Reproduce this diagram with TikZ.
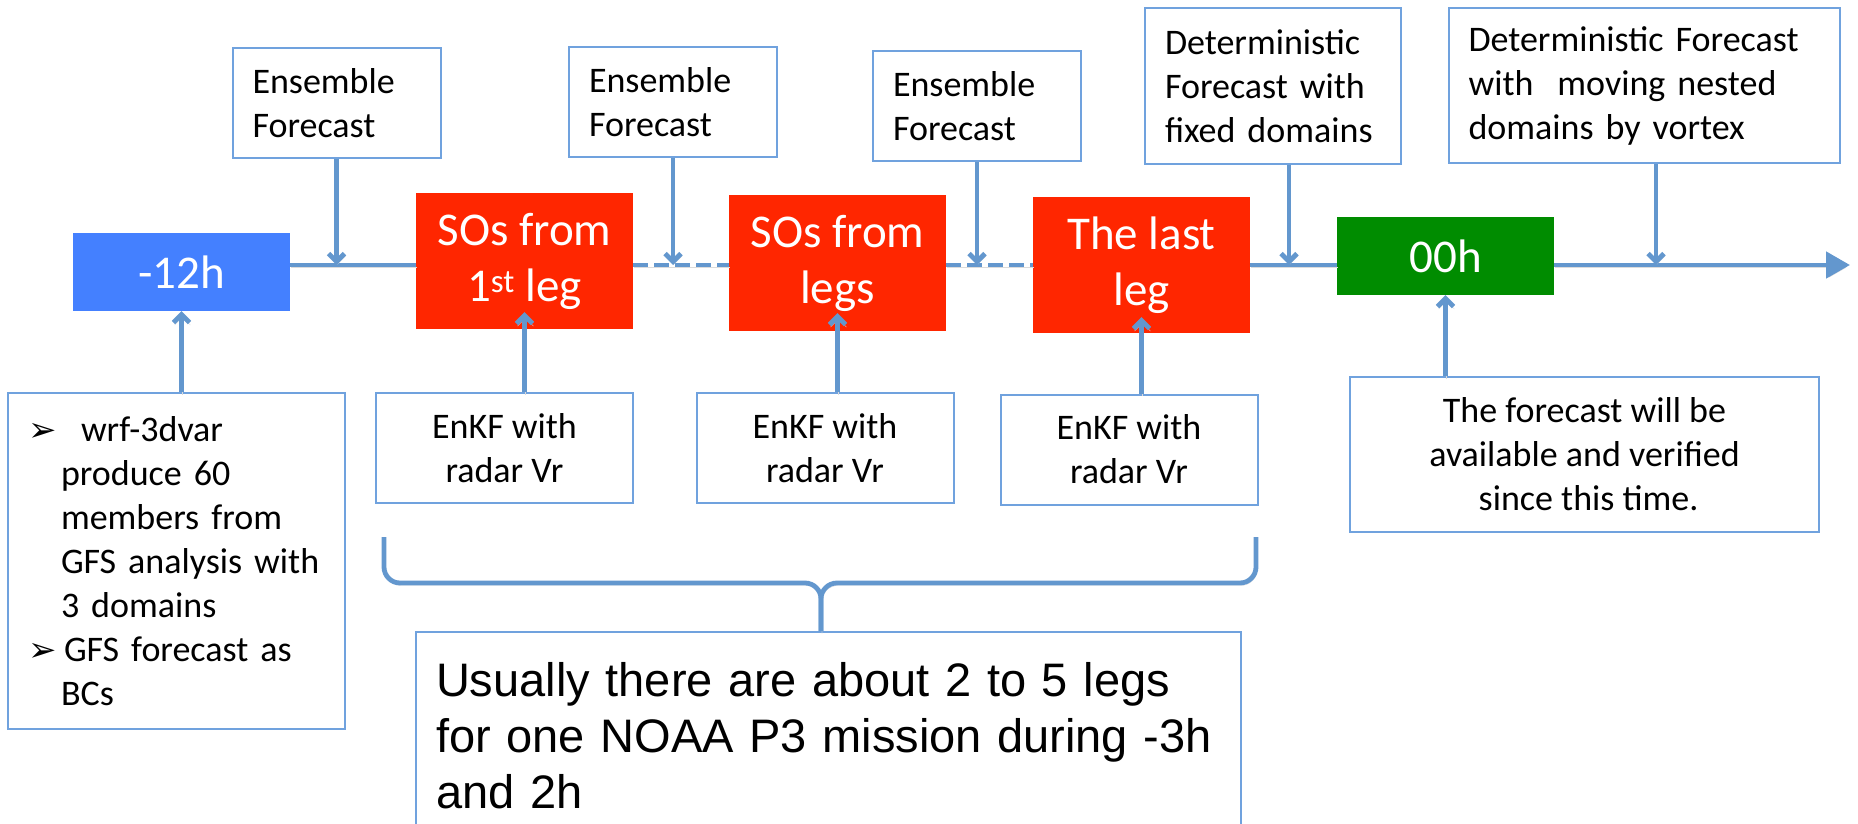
\documentclass[tikz,border=0pt]{standalone}
\usepackage{fontspec}
\setmainfont{Carlito}
\newfontfamily\arialfont{Liberation Sans}
\newfontfamily\dejavu{DejaVu Sans}
\usetikzlibrary{arrows.meta,positioning}

\definecolor{linkblue}{RGB}{99,151,206}
\definecolor{boxline}{RGB}{112,162,222}
\definecolor{startblue}{RGB}{68,128,255}
\definecolor{legred}{RGB}{255,38,0}
\definecolor{zerogreen}{RGB}{0,140,0}

\newcommand{\smalltxt}{\fontsize{36}{44}\selectfont}
\newcommand{\bigtxt}{\fontsize{47}{56}\selectfont}
\newcommand{\bul}{\makebox[33pt][l]{\dejavu\fontsize{34}{44}\selectfont ➢}}

\begin{document}
\begin{tikzpicture}[x=1pt,y=-1pt,
  note/.style={draw=boxline,line width=2pt,fill=white,inner sep=0pt,font=\smalltxt},
  lnote/.style={note,align=left,inner xsep=20pt},
  cnote/.style={note,align=center},
  stamp/.style={inner sep=0pt,text=white,font=\bigtxt,align=center},
  conn/.style={draw=linkblue,line width=4.8pt,
    preaction={draw=black!14,transform canvas={xshift=1pt,yshift=-2.5pt}}},
  broken/.style={dash pattern=on 15pt off 6pt},
  barb/.style={-{Straight Barb[length=8pt,width=16pt]}}]
  \clip (0,0) rectangle (1858,824);
  \coordinate (tl) at (0,265);
  \coordinate (tlend) at (1850,265);

  % forecasts above the line
  \node[lnote,text width=168pt,minimum height=110pt] (e1) at (336.5,103) {Ensemble\\Forecast};
  \node[lnote,text width=168pt,minimum height=110pt] (e2) at (673,102) {Ensemble\\Forecast};
  \node[lnote,text width=168pt,minimum height=110pt] (e3) at (977,106.5) {Ensemble\\Forecast};
  \node[lnote,text width=216pt,minimum height=156pt] (d1) at (1273,86) {Deterministic\\Forecast with\\fixed domains};
  \node[lnote,text width=351pt,minimum height=155pt] (d2) at (1644,86) {Deterministic Forecast\\with\ \ moving nested\\domains by vortex};

  % the time line
  \node[stamp,fill=startblue,minimum width=217pt,minimum height=78pt] (m12) at (181.5,272) {-12h};
  \node[stamp,fill=legred,minimum width=217pt,minimum height=136pt] (so1) at (524.5,261) {SOs from\\1\textsuperscript{st} leg};
  \node[stamp,fill=legred,minimum width=217pt,minimum height=136pt] (so2) at (837.5,263) {SOs from\\legs};
  \node[stamp,fill=legred,minimum width=217pt,minimum height=136pt] (last) at (1141.5,265) {The last\\leg};
  \node[stamp,fill=zerogreen,minimum width=217pt,minimum height=78pt] (zero) at (1445.5,256) {00h};

  % notes below the line
  \node[note,align=left,inner xsep=20pt,text width=297pt,minimum height=336pt] (lb) at (176.5,561)
    {\bul\hspace{20pt}wrf-3dvar\\
     \hspace*{33pt}produce 60\\
     \hspace*{33pt}members from\\
     \hspace*{33pt}GFS analysis with\\
     \hspace*{33pt}3 domains\\
     \bul\hspace{3pt}GFS forecast as\\
     \hspace*{33pt}BCs};
  \node[cnote,minimum width=257pt,minimum height=110pt] (k1) at (504.5,448) {EnKF with\\radar Vr};
  \node[cnote,minimum width=257pt,minimum height=110pt] (k2) at (825,448) {EnKF with\\radar Vr};
  \node[cnote,minimum width=257pt,minimum height=110pt] (k3) at (1129,449.5) {EnKF with\\radar Vr};
  \node[cnote,minimum width=469pt,minimum height=155pt] (fc) at (1584.5,454.5) {The forecast will be\\available and verified\\\ since this time.};
  \node[note,align=left,inner xsep=20pt,text width=785pt,minimum height=208pt,
    font=\arialfont\fontsize{47}{56}\selectfont] (legs) at (828.5,736)
    {Usually there are about 2 to 5 legs\\for one NOAA P3 mission during -3h\\and 2h};

  % line segments
  \draw[conn] (m12.east |- tl) -- (so1.west |- tl);
  \draw[conn,broken] (so1.east |- tl) -- (so2.west |- tl);
  \draw[conn,broken] (so2.east |- tl) -- (last.west |- tl);
  \draw[conn] (last.east |- tl) -- (zero.west |- tl);
  \draw[conn,-{Triangle[length=24pt,width=26pt]}] (zero.east |- tl) -- (tlend);

  \foreach \n in {e1,e2,e3}
    \draw[conn,barb] (\n.south) -- (\n.south |- tl);
  \draw[conn,barb] ([xshift=16pt]d1.south) -- ([xshift=16pt]d1.south |- tl);
  \draw[conn,barb] ([xshift=12pt]d2.south) -- ([xshift=12pt]d2.south |- tl);

  \draw[conn,barb] (m12 |- lb.north) -- (m12.south);
  \draw[conn,barb] (so1 |- k1.north) -- ([yshift=17pt]so1.south);
  \draw[conn,barb] (so2 |- k2.north) -- ([yshift=18pt]so2.south);
  \draw[conn,barb] (last |- k3.north) -- ([yshift=16pt]last.south);
  \draw[conn,barb] (zero |- fc.north) -- (zero.south);

  % brace over the legs
  \coordinate (tip) at (821,583);
  \draw[conn,rounded corners=16pt] (384,537) -- (384,583) -- (tip) -- (tip |- legs.north);
  \draw[conn,rounded corners=16pt] (1256,537) -- (1256,583) -- (tip) -- (tip |- legs.north);
\end{tikzpicture}
\end{document}
